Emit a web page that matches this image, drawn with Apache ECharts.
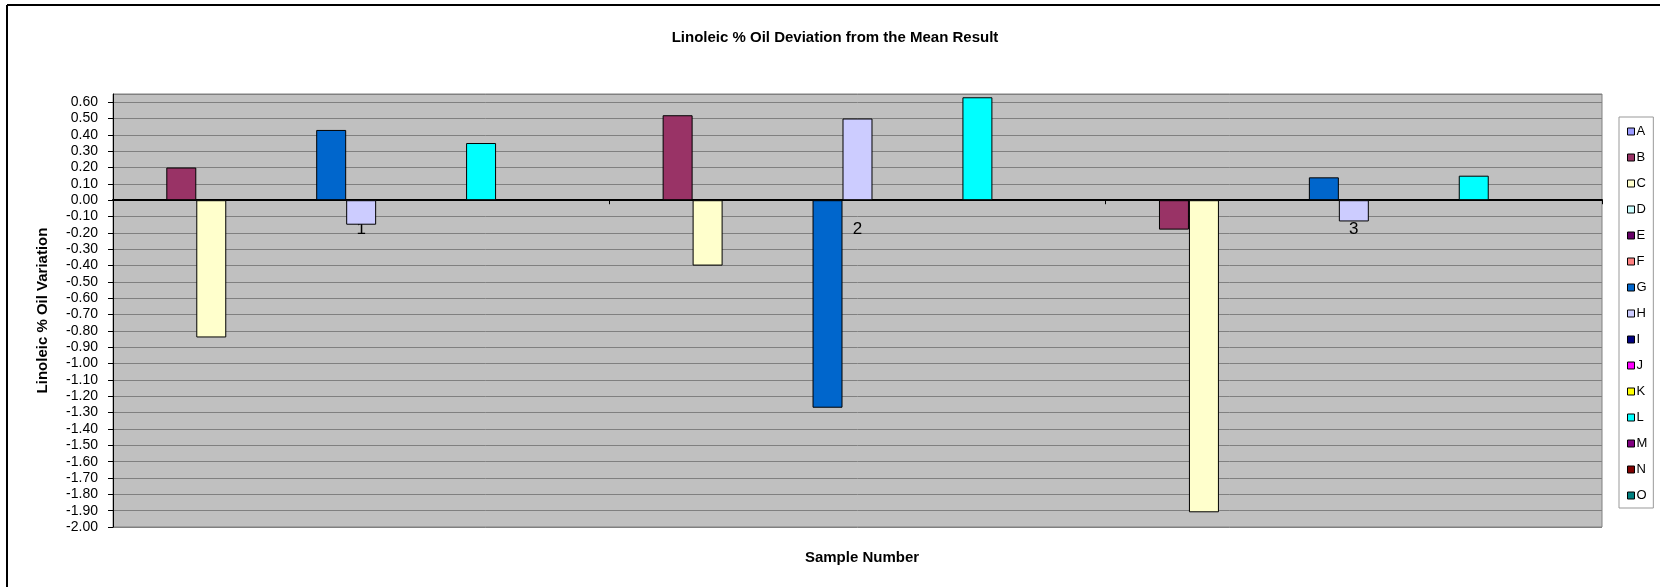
<!DOCTYPE html>
<html>
<head>
<meta charset="utf-8">
<script src="https://cdn.jsdelivr.net/npm/echarts@6/dist/echarts.min.js"></script>
<style>
html,body{margin:0;padding:0;background:#fff;}
#chart{width:1660px;height:587px;}
</style>
</head>
<body>
<div id="chart"></div>
<script>
// ---- data ----
const categories = ['1', '2', '3'];
const seriesNames = ['A','B','C','D','E','F','G','H','I','J','K','L','M','N','O'];
const valuesA = [null, null, null];
const valuesB = [0.20, 0.52, -0.18];
const valuesC = [-0.84, -0.40, -1.91];
const valuesD = [null, null, null];
const valuesE = [null, null, null];
const valuesF = [null, null, null];
const valuesG = [0.43, -1.27, 0.14];
const valuesH = [-0.15, 0.50, -0.13];
const valuesI = [null, null, null];
const valuesJ = [null, null, null];
const valuesK = [null, null, null];
const valuesL = [0.35, 0.63, 0.15];
const valuesM = [null, null, null];
const valuesN = [null, null, null];
const valuesO = [null, null, null];
const yMin = -2.0, yMax = 0.65, yStep = 0.1;

// ---- style / layout ----
const seriesColors = ['#9999FF','#993366','#FFFFCC','#CCFFFF','#660066','#FF8080','#0066CC','#CCCCFF','#000080','#FF00FF','#FFFF00','#00FFFF','#800080','#800000','#008080'];
const allValues = [valuesA,valuesB,valuesC,valuesD,valuesE,valuesF,valuesG,valuesH,valuesI,valuesJ,valuesK,valuesL,valuesM,valuesN,valuesO];
const FONT = "'Liberation Sans', Arial, sans-serif";
const W = 1660, H = 587;
const gridTop = 94, gridBottom = 60;
const plotH = H - gridTop - gridBottom;
// move the category axis from the bottom edge up to the value-axis zero
const zeroOffset = -plotH * (0 - yMin) / (yMax - yMin);

const chart = echarts.init(document.getElementById('chart'), null, {renderer: 'canvas'});
chart.setOption({
  animation: false,
  backgroundColor: '#ffffff',
  textStyle: {fontFamily: FONT, color: '#000'},
  title: [
    {text: 'Linoleic % Oil Deviation from the Mean Result', left: 830, textAlign: 'center', top: 25,
     textStyle: {fontFamily: FONT, fontSize: 15, fontWeight: 'bold', color: '#000'}},
    {text: 'Sample Number', left: 857, textAlign: 'center', top: 545,
     textStyle: {fontFamily: FONT, fontSize: 15, fontWeight: 'bold', color: '#000'}}
  ],
  grid: {left: 113, right: 58, top: gridTop, bottom: gridBottom, show: true,
         backgroundColor: '#C0C0C0', borderColor: '#808080', borderWidth: 1},
  legend: {
    orient: 'vertical', left: 1619, top: 117,
    data: seriesNames,
    itemWidth: 7, itemHeight: 7, itemGap: 13, icon: 'rect',
    padding: [8, 6, 6, 8],
    backgroundColor: '#fff', borderColor: '#999', borderWidth: 1,
    itemStyle: {borderColor: '#000', borderWidth: 1},
    textStyle: {fontFamily: FONT, fontSize: 13, color: '#000', padding: [0,0,0,-3]}
  },
  xAxis: {
    type: 'category', data: categories, position: 'bottom', offset: zeroOffset,
    axisLine: {onZero: false, lineStyle: {color: '#000', width: 2}},
    axisTick: {show: true, length: 4, lineStyle: {color: '#000'}},
    axisLabel: {fontFamily: FONT, fontSize: 17, color: '#000', margin: 21},
    splitLine: {show: false}
  },
  yAxis: {
    type: 'value', min: yMin, max: yMax, interval: yStep,
    name: 'Linoleic % Oil Variation', nameLocation: 'middle', nameGap: 63,
    nameTextStyle: {fontFamily: FONT, fontSize: 15, fontWeight: 'bold', color: '#000'},
    axisLine: {show: true, lineStyle: {color: '#000', width: 1}},
    axisTick: {show: true, length: 5, lineStyle: {color: '#000'}},
    axisLabel: {fontFamily: FONT, fontSize: 14, color: '#000', margin: 15, showMaxLabel: false,
      formatter: v => (Math.abs(v) < 1e-9 ? 0 : v).toFixed(2)},
    splitLine: {show: true, lineStyle: {color: '#808080', width: 1}}
  },
  series: seriesNames.map((n, i) => ({
    name: n, type: 'bar', data: allValues[i],
    barGap: '0%', barCategoryGap: '9.4%',
    itemStyle: {color: seriesColors[i], borderColor: '#000', borderWidth: 1}
  })),
  graphic: [
    {type: 'line', shape: {x1: 7, y1: 5, x2: 7, y2: 587}, style: {stroke: '#000', lineWidth: 2}},
    {type: 'line', shape: {x1: 7, y1: 5, x2: 1660, y2: 5}, style: {stroke: '#000', lineWidth: 2}}
  ]
});
</script>
</body>
</html>
